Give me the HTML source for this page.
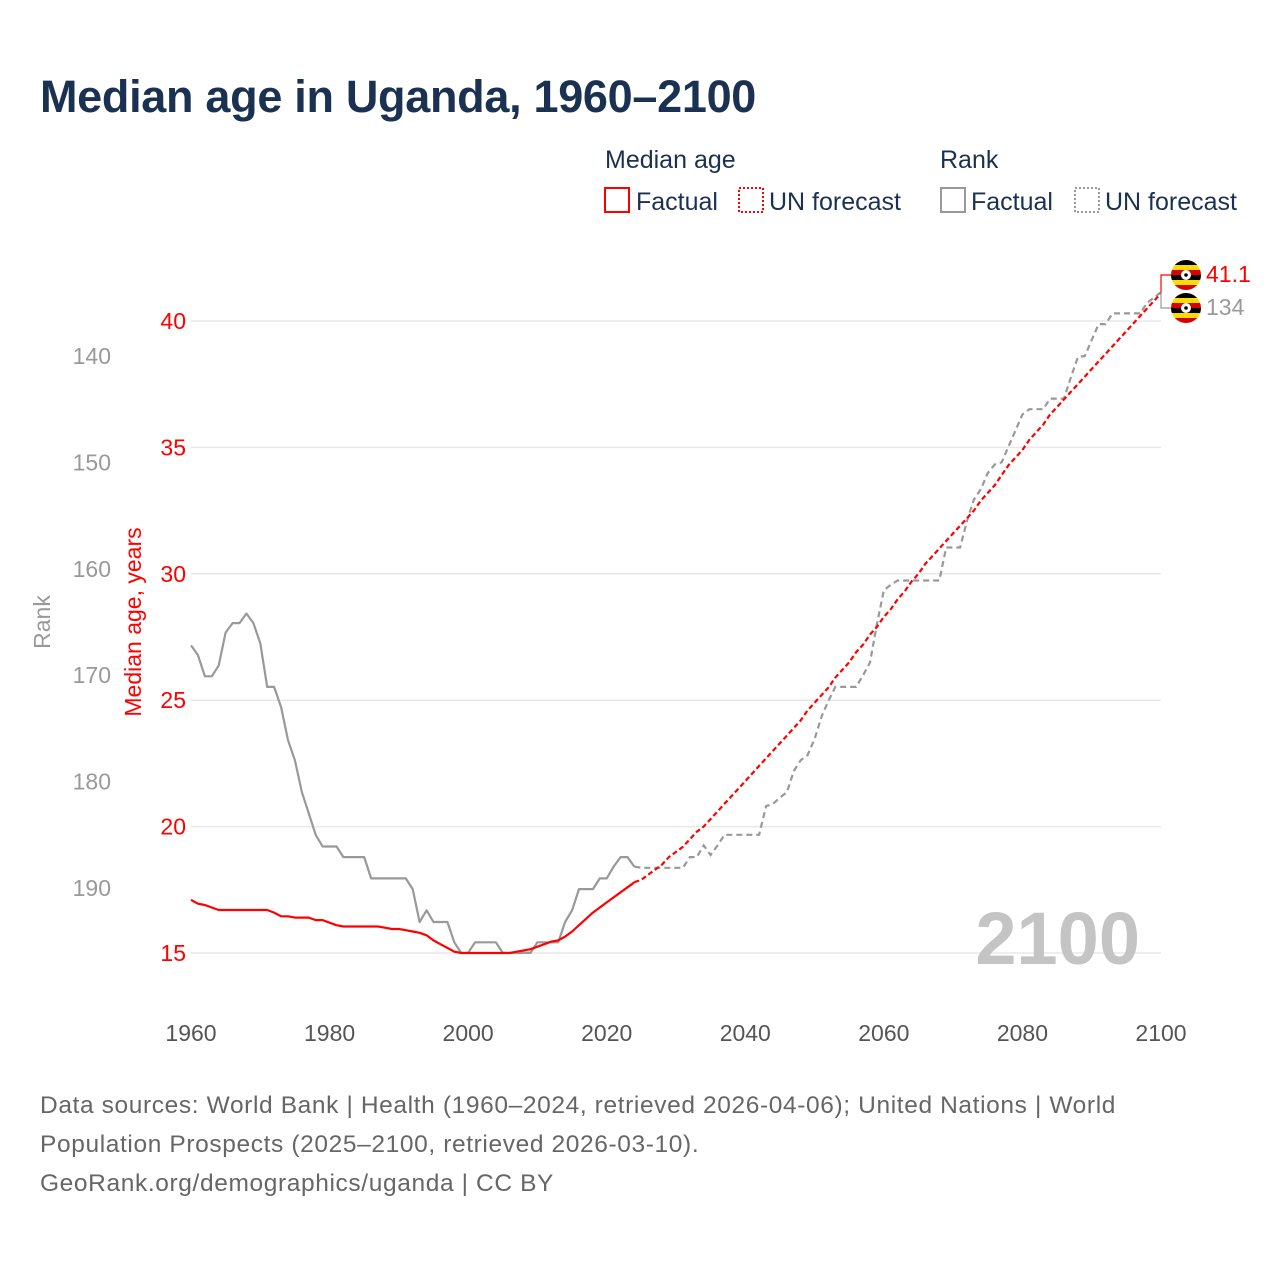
<!DOCTYPE html>
<html><head><meta charset="utf-8"><style>
body{margin:0;background:#fff;}
svg{display:block;font-family:"Liberation Sans",sans-serif;}
</style></head><body>
<svg id="chart" width="1280" height="1280" viewBox="0 0 1280 1280">
<text x="40" y="112" font-size="45" font-weight="bold" fill="#1b3152" letter-spacing="-0.3">Median age in Uganda, 1960–2100</text>
<g font-size="25" fill="#1b3152">
<text x="605" y="168">Median age</text>
<text x="940" y="168">Rank</text>
<g><rect x="605" y="188" width="24" height="24" fill="none" stroke="#ff0000" stroke-width="2"/><text x="636" y="210">Factual</text></g>
<g><rect x="739" y="188" width="24" height="24" fill="none" stroke="#ff0000" stroke-width="2" stroke-dasharray="2,2"/><text x="769" y="210">UN forecast</text></g>
<g><rect x="941" y="188" width="24" height="24" fill="none" stroke="#999" stroke-width="2"/><text x="971" y="210">Factual</text></g>
<g><rect x="1075" y="188" width="24" height="24" fill="none" stroke="#999" stroke-width="2" stroke-dasharray="2,2"/><text x="1105" y="210">UN forecast</text></g>
</g>
<g id="grid"></g>
<g id="axes"></g>
<text x="1140" y="964" text-anchor="end" font-size="74" font-weight="bold" fill="#c4c4c4">2100</text>
<text transform="translate(141,622) rotate(-90)" text-anchor="middle" font-size="23" fill="#ff0000">Median age, years</text>
<text transform="translate(50,622) rotate(-90)" text-anchor="middle" font-size="23" fill="#999">Rank</text>
<g id="series"></g>
<g id="ends"></g>
<g font-size="24.5" fill="#666" letter-spacing="0.62">
<text x="40" y="1113">Data sources: World Bank | Health (1960–2024, retrieved 2026-04-06); United Nations | World</text>
<text x="40" y="1152">Population Prospects (2025–2100, retrieved 2026-03-10).</text>
<text x="40" y="1191">GeoRank.org/demographics/uganda | CC BY</text>
</g>
</svg>
<script>
const ageFactYears=[1960,1961,1962,1963,1964,1965,1966,1967,1968,1969,1970,1971,1972,1973,1974,1975,1976,1977,1978,1979,1980,1981,1982,1983,1984,1985,1986,1987,1988,1989,1990,1991,1992,1993,1994,1995,1996,1997,1998,1999,2000,2001,2002,2003,2004,2005,2006,2007,2008,2009,2010,2011,2012,2013,2014,2015,2016,2017,2018,2019,2020,2021,2022,2023,2024];
const ageFact=[17.1,16.95,16.9,16.8,16.7,16.7,16.7,16.7,16.7,16.7,16.7,16.7,16.6,16.45,16.45,16.4,16.4,16.4,16.3,16.3,16.2,16.1,16.05,16.05,16.05,16.05,16.05,16.05,16.0,15.95,15.95,15.9,15.85,15.8,15.7,15.5,15.35,15.2,15.05,15.0,15.0,15.0,15.0,15.0,15.0,15.0,15.0,15.05,15.1,15.15,15.25,15.35,15.45,15.5,15.65,15.85,16.1,16.35,16.6,16.8,17.0,17.2,17.4,17.6,17.8];
const ageFcYears=[2024,2025,2026,2027,2028,2029,2030,2031,2032,2033,2034,2035,2036,2037,2038,2039,2040,2041,2042,2043,2044,2045,2046,2047,2048,2049,2050,2051,2052,2053,2054,2055,2056,2057,2058,2059,2060,2061,2062,2063,2064,2065,2066,2067,2068,2069,2070,2071,2072,2073,2074,2075,2076,2077,2078,2079,2080,2081,2082,2083,2084,2085,2086,2087,2088,2089,2090,2091,2092,2093,2094,2095,2096,2097,2098,2099,2100];
const ageFc=[17.8,17.9,18.1,18.3,18.5,18.8,19.0,19.2,19.5,19.8,20.0,20.3,20.6,20.9,21.2,21.5,21.8,22.1,22.4,22.7,23.0,23.3,23.6,23.9,24.2,24.6,24.9,25.2,25.5,25.9,26.2,26.5,26.9,27.2,27.6,27.9,28.3,28.6,29.0,29.3,29.7,30.0,30.4,30.7,31.0,31.3,31.6,31.9,32.2,32.5,32.9,33.2,33.5,33.9,34.3,34.6,34.9,35.3,35.6,35.9,36.3,36.6,36.9,37.2,37.5,37.8,38.1,38.4,38.7,39.0,39.3,39.6,39.9,40.2,40.5,40.8,41.1];
const rankFact=[167.2,168.1,170.1,170.1,169.1,166.0,165.1,165.1,164.2,165.1,167.0,171.1,171.1,173.0,176.1,178.0,181.0,183.0,185.0,186.1,186.1,186.1,187.1,187.1,187.1,187.1,189.1,189.1,189.1,189.1,189.1,189.1,190.1,193.2,192.1,193.2,193.2,193.2,195.1,196.1,196.1,195.1,195.1,195.1,195.1,196.1,196.1,196.1,196.1,196.1,195.1,195.1,195.1,195.1,193.2,192.1,190.1,190.1,190.1,189.1,189.1,188.0,187.1,187.1,188.0];
const rankFc=[188.0,188.1,188.1,188.1,188.1,188.1,188.1,188.1,187.1,187.1,186.0,186.9,186.0,185,185,185,185,185,185,182.3,182.1,181.5,181,179,178,177.5,176,173.9,172.4,171.1,171.1,171.1,171.1,170,168.8,165.2,162,161.5,161.1,161.1,161.1,161.1,161.1,161.1,161.1,158,158,158,155.5,153.5,152.5,151,150.2,150,148.5,147,145.5,145,145,145,144,144,144,142,140.1,140,138.5,137,137,136,136,136,136,136,135,134.5,134];
const xTicks=[1960,1980,2000,2020,2040,2060,2080,2100];
const ageTicks=[15,20,25,30,35,40];
const rankTicks=[140,150,160,170,180,190];

const X=y=>191+(y-1960)*970/140;
const YA=a=>953-(a-15)*632/25;
const YR=r=>356+(r-140)*532/50;
const NS="http://www.w3.org/2000/svg";
function mk(tag,attrs,parent){const e=document.createElementNS(NS,tag);for(const k in attrs)e.setAttribute(k,attrs[k]);parent.appendChild(e);return e;}
const grid=document.getElementById('grid'),axes=document.getElementById('axes'),series=document.getElementById('series'),ends=document.getElementById('ends');
ageTicks.forEach(t=>{
 const l=mk('line',{x1:191,x2:1161,y1:YA(t),y2:YA(t),stroke:'#e8e8e8','stroke-width':1.5},grid);
 
 
 const tx=mk('text',{x:186,y:YA(t)+8,'text-anchor':'end','font-size':23,fill:'#ff0000'},axes);tx.textContent=t;
 
 
});
rankTicks.forEach(t=>{
 const tx=mk('text',{x:111,y:YR(t)+8,'text-anchor':'end','font-size':23,fill:'#999'},axes);tx.textContent=t;
 
 
});
xTicks.forEach(t=>{
 const tx=mk('text',{x:X(t),y:1041,'text-anchor':'middle','font-size':23,fill:'#555'},axes);tx.textContent=t;
 
 
});
function path(xs,vs,fy){return vs.map((v,i)=>(i?'L':'M')+X(xs[i]).toFixed(1)+','+fy(v).toFixed(1)).join('');}
const rankFcYears=ageFcYears;
let p;
p=mk('path',{d:path(ageFactYears,rankFact,YR),fill:'none',stroke:'#999','stroke-width':2.2,'stroke-linejoin':'round'},series);


p=mk('path',{d:path(rankFcYears,rankFc,YR),fill:'none',stroke:'#999','stroke-width':2.2,'stroke-dasharray':'6,4'},series);


p=mk('path',{d:path(ageFactYears,ageFact,YA),fill:'none',stroke:'#ff0000','stroke-width':2.2,'stroke-linejoin':'round'},series);


p=mk('path',{d:path(ageFcYears,ageFc,YA),fill:'none',stroke:'#ff0000','stroke-width':2.2,'stroke-dasharray':'5,3'},series);


const ex=X(2100),ay=YA(ageFc[ageFc.length-1]),ry=YR(rankFc[rankFc.length-1]);
function flag(cx,cy,name){
 const g=mk('g',{},ends);
 
 
 const id='c'+Math.round(cy);
 const cp=mk('clipPath',{id:id},g);mk('circle',{cx:cx,cy:cy,r:15},cp);
 const cols=['#000','#fcdc04','#d90000','#000','#fcdc04','#d90000'];
 cols.forEach((c,i)=>mk('rect',{x:cx-15,y:cy-15+i*5,width:30,height:5,fill:c,'clip-path':'url(#'+id+')'},g));
 mk('circle',{cx:cx,cy:cy,r:5,fill:'#fff'},g);
 mk('circle',{cx:cx,cy:cy,r:1.8,fill:'#000'},g);
}
p=mk('path',{d:`M${ex},${ay}L${ex},275L1172,275`,fill:'none',stroke:'#ff0000','stroke-width':1.2},ends);


p=mk('path',{d:`M${ex},${ry}L${ex},308L1172,308`,fill:'none',stroke:'#999','stroke-width':1.2},ends);


flag(1186,275,'age-end-flag');
flag(1186,308,'rank-end-flag');
let t=mk('text',{x:1206,y:282,'font-size':23,fill:'#ff0000'},ends);t.textContent=ageFc[ageFc.length-1].toFixed(1);


t=mk('text',{x:1206,y:315,'font-size':23,fill:'#999'},ends);t.textContent=Math.round(rankFc[rankFc.length-1]);


</script>
</body></html>
